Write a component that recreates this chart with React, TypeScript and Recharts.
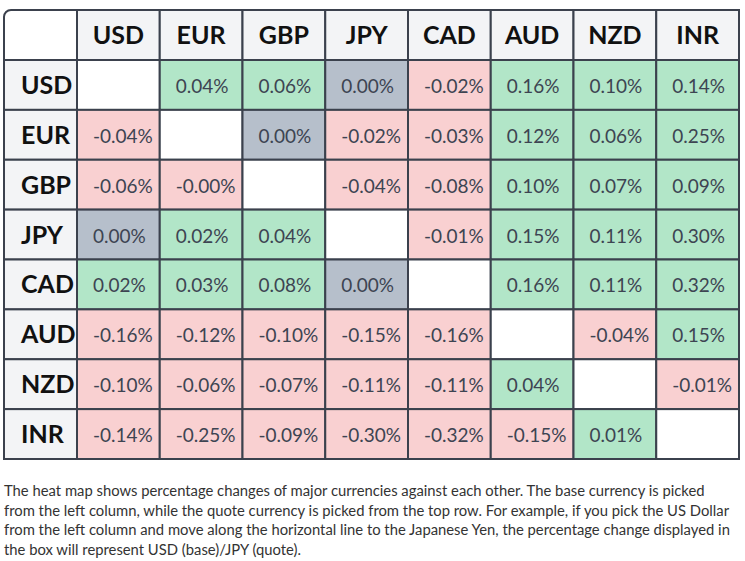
import React from 'react';
import { ScatterChart, Scatter, XAxis, YAxis, Customized } from 'recharts';

// Currency order used for both the quote columns and the base rows
const currencies = ['USD', 'EUR', 'GBP', 'JPY', 'CAD', 'AUD', 'NZD', 'INR'];

// Percentage change of base (row) against quote (column); null on the diagonal
const usdRow = [null, 0.04, 0.06, 0.0, -0.02, 0.16, 0.1, 0.14];
const eurRow = [-0.04, null, 0.0, -0.02, -0.03, 0.12, 0.06, 0.25];
const gbpRow = [-0.06, -0.001, null, -0.04, -0.08, 0.1, 0.07, 0.09];
const jpyRow = [0.0, 0.02, 0.04, null, -0.01, 0.15, 0.11, 0.3];
const cadRow = [0.02, 0.03, 0.08, 0.0, null, 0.16, 0.11, 0.32];
const audRow = [-0.16, -0.12, -0.1, -0.15, -0.16, null, -0.04, 0.15];
const nzdRow = [-0.1, -0.06, -0.07, -0.11, -0.11, 0.04, null, -0.01];
const inrRow = [-0.14, -0.25, -0.09, -0.3, -0.32, -0.15, 0.01, null];

const rows = [usdRow, eurRow, gbpRow, jpyRow, cadRow, audRow, nzdRow, inrRow];

const captionLines = [
  'The heat map shows percentage changes of major currencies against each other. The base currency is picked',
  'from the left column, while the quote currency is picked from the top row. For example, if you pick the US Dollar',
  'from the left column and move along the horizontal line to the Japanese Yen, the percentage change displayed in',
  'the box will represent USD (base)/JPY (quote).',
];

type Cell = { col: number; row: number; value: number | null };
const cells: Cell[] = rows.flatMap((r, row) => r.map((value, col) => ({ col, row, value })));

// Layout
const WIDTH = 745;
const HEIGHT = 470;
const MARGIN = { top: 10, left: 4, right: 6, bottom: 11 };
const HEAD_H = 50;
const HEAD_W = 73;
const PLOT_W = WIDTH - MARGIN.left - MARGIN.right - HEAD_W;
const PLOT_H = HEIGHT - MARGIN.top - MARGIN.bottom - HEAD_H;
const CELL_W = PLOT_W / currencies.length;
const CELL_H = PLOT_H / currencies.length;

const BORDER = '#3b414d';
const HEAD_BG = '#f3f4f6';
const POS = '#b2e6c8';
const NEG = '#f9d0d1';
const FLAT = '#b6bfcb';
const FONT = 'Lato, "Noto Sans", sans-serif';

const fillFor = (v: number | null) => {
  if (v === null) return '#ffffff';
  if (Math.abs(v) < 1e-9) return FLAT;
  return v < 0 ? NEG : POS;
};

const HeatCell = (props: any) => {
  const { cx, cy, payload } = props;
  const v: number | null = payload.value;
  const x = cx - CELL_W / 2;
  const y = cy - CELL_H / 2;
  return (
    <g>
      <rect x={x} y={y} width={CELL_W} height={CELL_H} fill={fillFor(v)} stroke={BORDER} strokeWidth={2} />
      {v !== null && (
        <text x={x + 16} y={cy + 8} fontSize={19} fontFamily={FONT} fill="#3d4452">
          {`${v.toFixed(2)}%`}
        </text>
      )}
    </g>
  );
};

const ColumnHead = (props: any) => {
  const { x, payload } = props;
  const label = currencies[payload.value];
  return (
    <g>
      <rect x={x - CELL_W / 2} y={MARGIN.top} width={CELL_W} height={HEAD_H} fill={HEAD_BG} stroke={BORDER} strokeWidth={2} />
      <text x={x} y={MARGIN.top + HEAD_H / 2 + 9} textAnchor="middle" fontSize={25} fontWeight={700} fontFamily={FONT} fill="#111111">
        {label}
      </text>
    </g>
  );
};

const RowHead = (props: any) => {
  const { y, payload } = props;
  const label = currencies[payload.value];
  return (
    <g>
      <rect x={MARGIN.left} y={y - CELL_H / 2} width={HEAD_W} height={CELL_H} fill={HEAD_BG} stroke={BORDER} strokeWidth={2} />
      <text x={MARGIN.left + 17} y={y + 9} fontSize={25} fontWeight={700} fontFamily={FONT} fill="#111111">
        {label}
      </text>
    </g>
  );
};

// Rounded outer frame: whites out the square corners, then strokes the outline
const Frame = () => {
  const x0 = MARGIN.left;
  const y0 = MARGIN.top;
  const x1 = WIDTH - MARGIN.right;
  const y1 = HEIGHT - MARGIN.bottom;
  const r = 7;
  const rounded = `M${x0 + r} ${y0} H${x1 - r} A${r} ${r} 0 0 1 ${x1} ${y0 + r} V${y1 - r} A${r} ${r} 0 0 1 ${x1 - r} ${y1} H${x0 + r} A${r} ${r} 0 0 1 ${x0} ${y1 - r} V${y0 + r} A${r} ${r} 0 0 1 ${x0 + r} ${y0} Z`;
  return (
    <g>
      <path d={`M0 0 H${WIDTH} V${HEIGHT} H0 Z ${rounded}`} fill="#ffffff" fillRule="evenodd" />
      <path d={rounded} fill="none" stroke={BORDER} strokeWidth={2} />
    </g>
  );
};

const ticks = currencies.map((_, i) => i);

export default function App() {
  return (
    <div style={{ position: 'absolute', left: 0, top: 0, width: WIDTH, height: 561, background: '#ffffff', fontFamily: FONT }}>
      <ScatterChart width={WIDTH} height={HEIGHT} margin={MARGIN}>
        <XAxis
          type="number"
          dataKey="col"
          orientation="top"
          domain={[-0.5, currencies.length - 0.5]}
          ticks={ticks}
          interval={0}
          height={HEAD_H}
          tickLine={false}
          axisLine={false}
          tick={<ColumnHead />}
        />
        <YAxis
          type="number"
          dataKey="row"
          reversed
          domain={[-0.5, currencies.length - 0.5]}
          ticks={ticks}
          interval={0}
          width={HEAD_W}
          tickLine={false}
          axisLine={false}
          tick={<RowHead />}
        />
        <Scatter data={cells} shape={<HeatCell />} isAnimationActive={false} />
        <Customized component={<Frame />} />
      </ScatterChart>
      <div
        style={{
          position: 'absolute',
          left: 4,
          top: 481,
          fontSize: 14.8,
          lineHeight: '19.7px',
          color: '#333333',
          whiteSpace: 'nowrap',
        }}
      >
        {captionLines.map((l) => (
          <div key={l}>{l}</div>
        ))}
      </div>
    </div>
  );
}
